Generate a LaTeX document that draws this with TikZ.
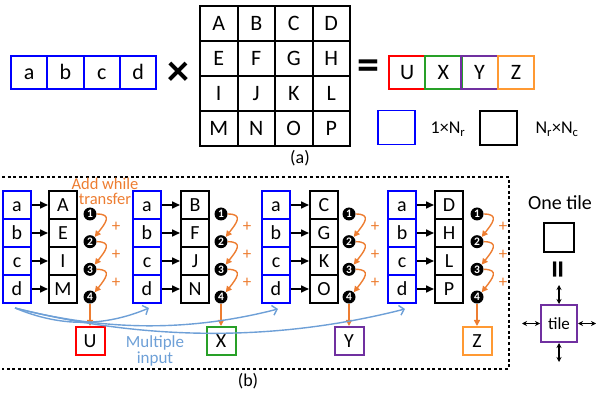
\documentclass[tikz,border=0pt]{standalone}
\usepackage{fontspec}
\setmainfont{Carlito}
\usetikzlibrary{arrows.meta,calc}
\definecolor{vblue}{RGB}{0,0,255}
\definecolor{ored}{RGB}{255,0,0}
\definecolor{ogreen}{RGB}{40,160,40}
\definecolor{opurple}{RGB}{112,48,160}
\definecolor{oorange}{RGB}{255,153,51}
\definecolor{addorange}{RGB}{237,125,49}
\definecolor{lblue}{RGB}{110,160,215}
\tikzset{
  vcell/.style={draw=vblue, line width=1.8pt, minimum width=36.3pt, minimum height=33pt, inner sep=0pt,
    font=\fontsize{22}{22}\selectfont, text height=14pt, text depth=0pt},
  mcell/.style={draw=black, line width=2pt, minimum width=37.5pt, minimum height=35pt, inner sep=0pt,
    font=\fontsize{22}{22}\selectfont, text height=14pt, text depth=0pt},
  ocell/.style={draw=#1, line width=2pt, minimum width=36.3pt, minimum height=33pt, inner sep=0pt,
    font=\fontsize{22}{22}\selectfont, text height=14pt, text depth=0pt},
  bcell/.style={draw=vblue, line width=1.8pt, minimum width=28pt, minimum height=28pt, inner sep=0pt,
    font=\fontsize{20}{20}\selectfont, text height=12.8pt, text depth=0pt},
  kcell/.style={draw=black, line width=2pt, minimum width=28pt, minimum height=28pt, inner sep=0pt,
    font=\fontsize{20}{20}\selectfont, text height=12.8pt, text depth=0pt},
  rcell/.style={draw=#1, line width=2pt, minimum width=29pt, minimum height=28pt, inner sep=0pt,
    font=\fontsize{20}{20}\selectfont, text height=12.8pt, text depth=0pt},
  numdot/.style={circle, fill=black, inner sep=0pt, minimum size=13pt, text=white,
    font=\fontsize{11.5}{11.5}\selectfont\bfseries},
  addarrow/.style={draw=addorange, line width=1.4pt, -{Triangle[length=6pt,width=6pt]}},
  barrow/.style={draw=black, line width=1.6pt, -{Triangle[length=8pt,width=7pt]}},
  multarrow/.style={draw=lblue, line width=1.4pt, -{Straight Barb[length=4.5pt,width=10pt]}},
  tilearrow/.style={draw=black, line width=1.2pt, {Stealth[length=5pt,width=5pt]}-{Stealth[length=5pt,width=5pt]}},
  plustxt/.style={text=addorange, font=\fontsize{17}{17}\selectfont},
  lbl/.style={font=\fontsize{18}{18}\selectfont},
}
\begin{document}
\begin{tikzpicture}[x=1pt,y=-1pt]
\useasboundingbox (0,0) rectangle (597,403);

% ---------- (a) ----------
\foreach \t [count=\i from 0] in {a,b,c,d}
  \node[vcell] (v\t) at ({29.2+36.3*\i},72.5) {\t};
\foreach \t [count=\k from 0] in {A,B,C,D,E,F,G,H,I,J,K,L,M,N,O,P}{
  \pgfmathsetmacro\cx{218.75+37.5*mod(\k,4)}
  \pgfmathsetmacro\cy{23.5+35*floor(\k/4)}
  \node[mcell] (m\t) at (\cx,\cy) {\t};
}
\node[font=\fontsize{44}{44}\selectfont\bfseries] (times) at (178,74) {×};
\node[font=\fontsize{44}{44}\selectfont\bfseries] (eq) at (368,70) {=};
\node[ocell=ored] (oU) at (407.1,72.5) {U};
\node[ocell=ogreen] (oX) at (443.4,72.5) {X};
\node[ocell=opurple] (oY) at (479.6,72.5) {Y};
\node[ocell=oorange] (oZ) at (515.9,72.5) {Z};

\node[draw=vblue, line width=1.8pt, minimum width=37pt, minimum height=34pt, inner sep=0pt] (lgb) at (396.5,127.5) {};
\node[lbl] (lgbt) at (448,129) {1×N\textsubscript{r}};
\node[draw=black, line width=2pt, minimum width=37pt, minimum height=34pt, inner sep=0pt] (lgk) at (498.5,128) {};
\node[lbl] (lgkt) at (557,129) {N\textsubscript{r}×N\textsubscript{c}};
\node[lbl] (capa) at (300,158) {(a)};

% ---------- (b) ----------
\draw[line width=1.5pt, dash pattern=on 3pt off 2.6pt] (2,177) -- (509,177) -- (509,369) -- (2,369);

\foreach \g/\bx/\kx/\cx/\letters/\out/\oc in
   {1/3/49/90/{A,E,I,M}/U/ored, 2/133/181/221/{B,F,J,N}/X/ogreen,
    3/262/310/349/{C,G,K,O}/Y/opurple, 4/388/435/477/{D,H,L,P}/Z/oorange}{
  \foreach \t [count=\j from 0] in {a,b,c,d}
    \node[bcell] (b\g-\j) at ({\bx+14},{205+28*\j}) {\t};
  \foreach \t [count=\j from 0] in \letters
    \node[kcell] (k\g-\j) at ({\kx+14},{205+28*\j}) {\t};
  \foreach \j in {0,1,2,3}
    \draw[barrow] (b\g-\j.east) -- (k\g-\j.west);
  \foreach \n [count=\j from 0] in {1,2,3,4}
    \node[numdot] (c\g-\n) at (\cx,{214+27.67*\j}) {\n};
  \draw[addarrow] (c\g-1.east) .. controls +(16,0) and +(11,-14) .. (c\g-2.north east);
  \draw[addarrow] (c\g-2.east) .. controls +(16,0) and +(11,-14) .. (c\g-3.north east);
  \draw[addarrow] (c\g-3.east) .. controls +(16,0) and +(11,-14) .. (c\g-4.north east);
  \node[plustxt] (p\g-1) at ({\cx+26},227) {+};
  \node[plustxt] (p\g-2) at ({\cx+26},255) {+};
  \node[plustxt] (p\g-3) at ({\cx+26},283) {+};
  \node[rcell=\oc] (o\g) at (\cx,341) {\out};
  \draw[addarrow] (c\g-4.south) -- (o\g.north);
}

\node[text=addorange, align=center, font=\fontsize{16.5}{15}\selectfont] (addt) at (105,191) {Add while\\transfer};

\coordinate (ms) at (15,308);
\coordinate (me2) at (149,308);
\coordinate (me3) at (278,309);
\coordinate (me4) at (405,309);
\draw[multarrow] (ms) .. controls +(45,19) and +(-45,19) .. (me2);
\draw[multarrow] (ms) .. controls +(90,23) and +(-90,23) .. (me3);
\draw[multarrow] (ms) .. controls +(130,33) and +(-130,33) .. (me4);
\node[text=lblue, align=center, font=\fontsize{17}{14}\selectfont] (mult) at (155,351) {Multiple\\input};

\node[lbl] (capb) at (248,381) {(b)};

% ---------- tile ----------
\node[font=\fontsize{20}{20}\selectfont] (onetile) at (560,203) {One tile};
\node[draw=black, line width=2pt, minimum width=30pt, minimum height=29pt, inner sep=0pt] (tsq) at (559,237.5) {};
\node[font=\fontsize{36}{36}\selectfont\bfseries, rotate=90] (teq) at (561,270) {=};
\node[draw=opurple, line width=2pt, minimum width=36pt, minimum height=37pt, inner sep=0pt,
  font=\fontsize{17}{17}\selectfont] (tile) at (559,323.5) {tile};
\coordinate (tn) at (559,285);
\coordinate (ts) at (559,362);
\coordinate (tw) at (522,323.5);
\coordinate (te) at (596,323.5);
\draw[tilearrow] (tn) -- (tile.north);
\draw[tilearrow] (tile.south) -- (ts);
\draw[tilearrow] (tw) -- (tile.west);
\draw[tilearrow] (tile.east) -- (te);
\end{tikzpicture}
\end{document}
